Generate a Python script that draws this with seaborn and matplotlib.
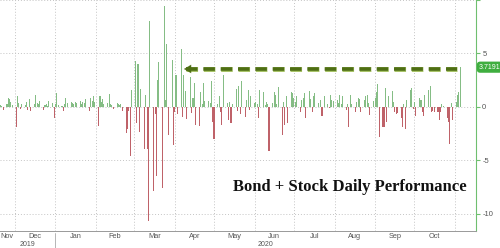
import numpy as np
import pandas as pd
import matplotlib
matplotlib.use("Agg")
import matplotlib.pyplot as plt
import matplotlib.dates as mdates
import matplotlib.transforms as mtransforms
import matplotlib.patheffects as pe
import seaborn as sns

# ---- data (daily % performance), one list per month ----
nov19 = [0.2, 0.1, -0.3, 0.3, 0.8, 0.7, 0.5, 0.2]
dec19 = [-1.9, 1.0, 0.4, -0.2, 0.3, 0.2, 0.5, -0.3, 0.7, -0.4, 0.3, 1.1, 0.4, 0.3,
         0.6, -0.3, 0.2, 0.3, 0.1, 0.6, 0.4, -1.0]
jan20 = [0.3, 1.3, 0.2, 0.1, -0.4, 0.3, 0.8, 0.4, 0.5, 0.4, 0.3, 0.5, 0.4, 0.6,
         0.3, 0.5, 0.4, 0.7, -0.4, 0.8, 0.6, 1.0, 0.5]
feb20 = [-1.8, 1.0, 0.5, 0.7, 0.3, 0.4, 1.2, 0.3, 0.2, -0.2, 0.4, 0.3, 0.2, 0.3,
         -0.4, -2.4, -2.1, -0.4, -4.6, 1.6]
mar20 = [4.3, -1.5, 4.0, -2.3, 1.7, -3.9, 1.1, -3.9, -10.7, 8.0, -7.9, -0.7, -6.5,
         2.5, 4.2, -7.6, 9.4, 0.65, 5.9, -2.6, 4.4, -3.6]
apr20 = [-0.5, 3.0, -0.7, 5.4, -0.9, 3.0, 1.5, -1.1, 2.8, -0.6, 0.8, 2.2, -1.7,
         -1.8, 1.4, 0.3, 2.2, 0.6, 0.6, 0.4, 2.4, -1.4]
may20 = [-3.0, 0.3, 1.0, -0.5, -1.7, 3.0, 0.4, -1.2, 0.5, -1.5, 0.3, 1.7, -0.4,
         2.0, -0.7, 2.4, -0.9, 0.65, 1.6, -0.3, 1.0]
jun20 = [0.4, 0.5, 0.3, -1.0, 1.6, 1.4, 0.2, 0.5, 0.3, -4.1, 0.4, 1.4, 1.1, 0.3,
         1.9, -2.6, 0.5, -1.7, 1.0, -1.5, 1.4, 1.3]
jul20 = [0.8, 0.5, 1.0, -0.45, 0.65, 0.8, 1.3, -1.05, 1.5, 0.7, -0.45, 1.0, 1.3,
         0.4, 0.65, -0.85, -0.85, 1.0, 0.3, -0.1, 1.1, 0.65, 0.6]
aug20 = [0.65, 0.4, 1.1, 0.3, 1.0, -0.3, 0.3, -1.85, 1.1, 0.3, -0.5, 0.5, 0.8,
         0.7, -0.45, 0.65, 1.0, 1.1, 0.4, -0.75, 0.6]
sep20 = [0.8, 1.4, 2.1, -2.8, -1.85, -1.9, 1.75, -1.4, 1.0, 1.5, 0.5, -0.45,
         -0.65, -0.6, -1.05, -1.85, 0.3, -2.1, 0.65, 1.6, 1.75, -0.2]
oct20 = [0.5, -0.85, 0.8, 0.65, -0.45, -0.85, 1.1, 1.6, 2.0, -0.45, -0.35, -0.45,
         -0.45, -1.2, -0.45, 0.3, 0.05, -1.05, -1.4, -3.5, 0.35, -1.2]
nov20 = [0.5, 1.1, 1.4, 3.7191]

month_starts = ["2019-11-20", "2019-12-01", "2020-01-01", "2020-02-01", "2020-03-01",
                "2020-04-01", "2020-05-01", "2020-06-01", "2020-07-01", "2020-08-01",
                "2020-09-01", "2020-10-01", "2020-11-01"]
month_data = [nov19, dec19, jan20, feb20, mar20, apr20, may20, jun20, jul20, aug20,
              sep20, oct20, nov20]
month_labels = ["Nov", "Dec", "Jan", "Feb", "Mar", "Apr", "May", "Jun", "Jul", "Aug",
                "Sep", "Oct"]
year_labels = ["2019", "2020"]
last_value_label = "3.7191"
title_text = "Bond + Stock Daily Performance"

# build dates: business days of each month, as many as values read
dates, vals = [], []
for start, data in zip(month_starts, month_data):
    d = pd.bdate_range(start, periods=len(data))
    dates.extend(d)
    vals.extend(data)
df = pd.DataFrame({"date": dates, "value": vals})
df["x"] = mdates.date2num(df["date"])
df["sign"] = np.where(df["value"] >= 0, "up", "down")

GREEN = "#7cc67c"
RED = "#cf525c"

sns.set_style("white")
plt.rcParams["font.family"] = ["Liberation Sans", "DejaVu Sans"]

fig = plt.figure(figsize=(5.0, 2.48), dpi=100)
ax = fig.add_axes([0.0, 0.0685, 0.952, 0.9315])

sns.barplot(data=df, x="x", y="value", hue="sign",
            palette={"up": GREEN, "down": RED}, native_scale=True,
            width=0.8, dodge=False, legend=False, errorbar=None, ax=ax,
            linewidth=0)

x0 = mdates.date2num(pd.Timestamp("2019-11-19 16:00"))
x1 = mdates.date2num(pd.Timestamp("2020-11-17"))
ax.set_xlim(x0, x1)
ax.set_ylim(-11.6, 10)

# month gridlines / labels
mstarts = pd.date_range("2019-12-01", "2020-11-01", freq="MS")
mnum = mdates.date2num(mstarts)
ax.set_xticks(mnum)
ax.set_xticklabels([])
mid_edges = np.concatenate([[x0], mnum])
mids = (mid_edges[:-1] + mid_edges[1:]) / 2
ax.set_xticks(mids, minor=True)
ax.set_xticklabels(month_labels, minor=True, fontsize=5.3, color="#555555")
ax.tick_params(axis="x", which="major", length=2, color="#999999", width=0.6)
ax.tick_params(axis="x", which="minor", length=0, pad=1.5)
ax.set_xlabel("")
ax.set_ylabel("")

# y axis on right
ax.yaxis.tick_right()
ax.set_yticks([-10, -5, 0, 5, 10])
ax.set_yticklabels(["-10", "-5", "0", "5", ""], fontsize=5.5, color="#555555")
ax.tick_params(axis="y", length=3, color="#6fbf6f", width=0.8, pad=1.5)

ax.grid(True, axis="both", which="major", linestyle=(0, (1, 2)), color="#c4c4c4",
        linewidth=0.7)
ax.set_axisbelow(True)

for s in ["left", "top"]:
    ax.spines[s].set_visible(False)
ax.spines["right"].set_color("#6fbf6f")
ax.spines["right"].set_linewidth(0.8)
ax.spines["bottom"].set_color("#999999")
ax.spines["bottom"].set_linewidth(0.7)

# year labels and separator
trans = mtransforms.blended_transform_factory(ax.transData, ax.transAxes)
jan1 = mdates.date2num(pd.Timestamp("2020-01-01"))
ax.text((x0 + jan1) / 2, -0.057, year_labels[0], transform=trans, ha="center",
        va="center", fontsize=5.0, color="#555555")
ax.text((jan1 + x1) / 2, -0.057, year_labels[1], transform=trans, ha="center",
        va="center", fontsize=5.0, color="#555555")
ax.plot([jan1, jan1], [-0.01, -0.075], transform=trans, clip_on=False,
        color="#aaaaaa", lw=0.6)

# dashed arrow annotation
last_x = df["x"].iloc[-1]
last_v = df["value"].iloc[-1]
arrow_y = 3.55
arr_start = last_x - 2.5
arr_end = mdates.date2num(pd.Timestamp("2020-04-10"))
ax.plot([arr_end, arr_start], [arrow_y, arrow_y], color="#4e6e14", lw=2.6,
        dashes=(3.2, 1.6), solid_capstyle="butt", dash_capstyle="butt",
        path_effects=[pe.Stroke(linewidth=3.6, foreground="#a9c46a"), pe.Normal()],
        zorder=5)
ax.annotate("", xy=(arr_end - 4, arrow_y), xytext=(arr_end + 1, arrow_y),
            arrowprops=dict(arrowstyle="-|>,head_length=0.5,head_width=0.3",
                            color="#4e6e14", lw=0.1), zorder=6)

# last value label box
trans_y = mtransforms.blended_transform_factory(ax.transAxes, ax.transData)
ax.text(1.006, last_v, last_value_label, transform=trans_y, ha="left",
        va="center", fontsize=5, color="white", clip_on=False,
        bbox=dict(boxstyle="round,pad=0.3,rounding_size=0.5", fc="#3fae3f",
                  ec="none"))

# title text
ax.text(0.735, 0.19, title_text, transform=ax.transAxes, ha="center",
        va="center", fontsize=12, fontweight="bold", color="#111111",
        family=["Liberation Serif", "DejaVu Serif"])

fig.savefig("out.png", dpi=100)
